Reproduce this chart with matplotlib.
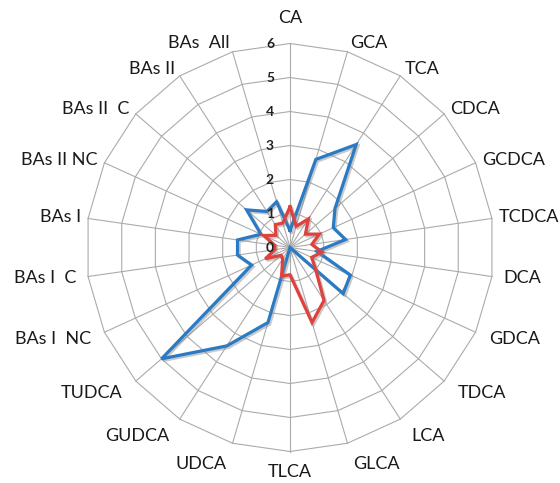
import matplotlib
matplotlib.use("Agg")
import matplotlib.pyplot as plt
import matplotlib.patheffects as pe
import numpy as np

categories = ["CA", "GCA", "TCA", "CDCA", "GCDCA", "TCDCA", "DCA", "GDCA",
              "TDCA", "LCA", "GLCA", "TLCA", "UDCA", "GUDCA", "TUDCA",
              "BAs I  NC", "BAs I  C", "BAs I", "BAs II NC", "BAs II  C",
              "BAs II", "BAs  All"]
blue_vals = [0.5, 2.7, 3.6, 1.75, 1.4, 1.65, 0.8, 1.95, 2.07, 0.0, 0.0, 0.0,
             2.3, 3.44, 5.0, 1.24, 1.56, 1.56, 0.94, 1.69, 1.26, 1.4]
red_vals = [1.2, 0.65, 1.0, 0.6, 0.95, 0.65, 0.95, 0.7, 1.0, 1.85, 2.3, 0.8,
            0.88, 0.4, 0.35, 0.8, 0.45, 0.45, 0.85, 0.55, 0.8, 0.75]
ticks = [0, 1, 2, 3, 4, 5, 6]

n = len(categories)
ang = np.arange(n) * 2 * np.pi / n


def xy(r):
    r = np.asarray(r, dtype=float)
    return r * np.sin(ang), r * np.cos(ang)


fig = plt.figure(figsize=(5.6, 4.83), dpi=100)
ax = fig.add_axes([0, 0, 1, 1])
# centre of the web sits at pixel (290, 247.5), 34 px per unit
u = 34.0
ax.set_xlim(-290 / u, (560 - 290) / u)
ax.set_ylim(-(483 - 247.5) / u, 247.5 / u)
ax.axis("off")

grid_c = "#ababab"
for t in ticks[1:]:
    gx, gy = xy([t] * n)
    ax.plot(np.append(gx, gx[0]), np.append(gy, gy[0]), color=grid_c, lw=0.8, zorder=1)
ox, oy = xy([ticks[-1]] * n)
for i in range(n):
    ax.plot([0, ox[i]], [0, oy[i]], color=grid_c, lw=0.8, zorder=1)

shadow = [pe.SimpleLineShadow(offset=(1.2, -1.2), shadow_color="#888888", alpha=0.45),
          pe.Normal()]
for vals, col in [(blue_vals, "#2a7bc4"), (red_vals, "#e0413c")]:
    px, py = xy(vals)
    ax.plot(np.append(px, px[0]), np.append(py, py[0]), color=col, lw=2.3,
            solid_joinstyle="miter", path_effects=shadow, zorder=3)

for t in ticks:
    ax.text(-0.47, t, str(t), ha="right", va="center", fontsize=10,
            fontweight="bold", color="#222222", family="Lato", zorder=4)

for i, name in enumerate(categories):
    s, c = np.sin(ang[i]), np.cos(ang[i])
    if abs(s) < 0.05:
        ha = "center"
        r = 6.74 if c > 0 else 6.6
    else:
        ha = "left" if s > 0 else "right"
        r = 6.2 + 0.06 * c if c >= 0 else 6.3 + 0.35 * abs(c)
    ax.text(r * s, r * c, name, ha=ha, va="center", fontsize=13, family="Lato",
            color="#1a1a1a")

fig.savefig("out.png", dpi=100)
